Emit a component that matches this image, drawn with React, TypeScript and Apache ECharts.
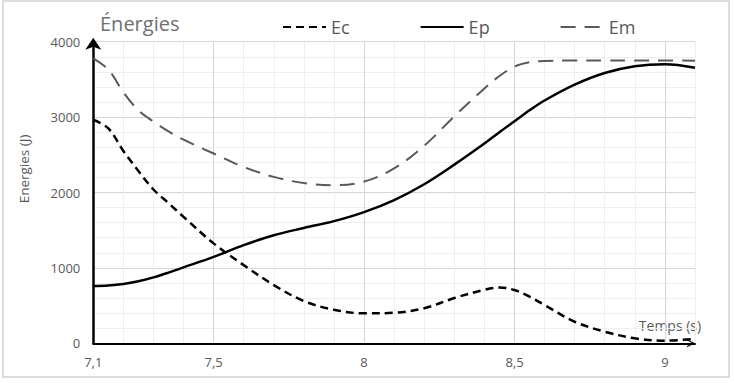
import React, { useEffect, useRef } from "react";
import * as echarts from "echarts";

const times = [7.1, 7.15, 7.2, 7.25, 7.3, 7.35, 7.4, 7.5, 7.6, 7.7, 7.8, 7.9, 8.0, 8.1, 8.2, 8.3, 8.4, 8.45, 8.5, 8.55, 8.6, 8.7, 8.8, 8.9, 9.0, 9.1];
const ecValues = [2965, 2850, 2550, 2285, 2040, 1860, 1677, 1325, 1037, 772, 560, 445, 397, 405, 465, 600, 710, 740, 706, 618, 507, 286, 154, 66, 35, 60];
const epValues = [759, 765, 785, 822, 874, 938, 1007, 1147, 1302, 1434, 1530, 1620, 1740, 1900, 2110, 2370, 2650, 2800, 2945, 3090, 3220, 3430, 3584, 3673, 3700, 3655];
const emValues = [3780, 3630, 3330, 3090, 2940, 2810, 2700, 2517, 2339, 2207, 2125, 2097, 2145, 2320, 2620, 3010, 3380, 3545, 3670, 3728, 3745, 3750, 3750, 3750, 3750, 3748];
const seriesNames = ["Ec", "Ep", "Em"];
const xLabelTicks = [7.1, 7.5, 8, 8.5, 9];
const yLabelTicks = [0, 1000, 2000, 3000, 4000];

const FONT = "'Open Sans', 'Noto Sans', sans-serif";
const TXT = "#595959";
const MINOR = "#efefef";
const MAJOR = "#d6d6d6";

export default function App() {
  const ref = useRef<HTMLDivElement>(null);
  useEffect(() => {
    if (!ref.current) return;
    const chart = echarts.init(ref.current, undefined, { renderer: "svg" });
    const pair = (vals: number[]) => times.map((t, i) => [t, vals[i]]);
    chart.setOption({
      animation: false,
      backgroundColor: "#ffffff",
      textStyle: { fontFamily: FONT },
      grid: { left: 93.3, top: 41.7, right: 39, bottom: 39.7, containLabel: false },
      legend: {
        left: 277,
        top: 13,
        itemWidth: 43,
        itemHeight: 14,
        itemGap: 70,
        itemStyle: { opacity: 0 },
        textStyle: { color: TXT, fontSize: 18, fontFamily: FONT },
        data: seriesNames,
      },
      xAxis: {
        type: "value",
        min: 7.1,
        max: 9.1,
        interval: 0.1,
        axisLine: {
          show: true,
          onZero: false,
          lineStyle: { color: "#000", width: 2 },
          symbol: ["none", "path://M0,12 L6,0 L12,12 L10.2,12 L6,3.6 L1.8,12 Z"],
          symbolSize: [13, 8],
          symbolOffset: [0, -4],
        },
        axisTick: { show: false },
        splitLine: {
          show: true,
          lineStyle: { color: [MINOR, MINOR, MINOR, MINOR, MAJOR], width: 1 },
        },
        axisLabel: {
          margin: 12,
          color: TXT,
          fontSize: 13,
          fontFamily: FONT,
          formatter: (v: number) => {
            const k = Math.round(v * 10);
            const hit = xLabelTicks.find((t) => Math.round(t * 10) === k);
            return hit === undefined ? "" : String(hit).replace(".", ",");
          },
        },
      },
      yAxis: {
        type: "value",
        min: 0,
        max: 4000,
        interval: 200,
        axisLine: {
          show: true,
          lineStyle: { color: "#000", width: 2.5 },
          symbol: ["none", "arrow"],
          symbolSize: [12, 12],
          symbolOffset: [0, 4],
        },
        axisTick: { show: false },
        splitLine: {
          show: true,
          lineStyle: { color: [MAJOR, MINOR, MINOR, MINOR, MINOR], width: 1 },
        },
        axisLabel: {
          margin: 13,
          color: TXT,
          fontSize: 13,
          fontFamily: FONT,
          formatter: (v: number) => (yLabelTicks.includes(Math.round(v)) ? String(Math.round(v)) : ""),
        },
      },
      graphic: [
        {
          type: "rect",
          shape: { x: 3, y: 1, width: 726, height: 376 },
          style: { fill: "none", stroke: "#dcdcdc", lineWidth: 2 },
          silent: true,
          z: -1,
        },
        {
          type: "text",
          x: 100,
          y: 23,
          style: { text: "Énergies", fill: "#707070", fontSize: 20, fontFamily: FONT, verticalAlign: "middle", align: "left" },
        },
        {
          type: "text",
          x: 24,
          y: 169,
          rotation: Math.PI / 2,
          style: { text: "Energies (J)", fill: TXT, fontSize: 13.5, fontFamily: FONT, verticalAlign: "middle", align: "center" },
        },
        {
          type: "text",
          x: 670,
          y: 325,
          style: { text: "Temps (s)", fill: TXT, fontSize: 14, fontFamily: FONT, verticalAlign: "middle", align: "center" },
        },
      ],
      series: [
        {
          name: seriesNames[0],
          type: "line",
          data: pair(ecValues),
          smooth: 0.35,
          symbol: "none",
          lineStyle: { color: "#000", width: 2.5, type: [8, 5] },
          itemStyle: { color: "#000" },
          z: 3,
        },
        {
          name: seriesNames[1],
          type: "line",
          data: pair(epValues),
          smooth: 0.35,
          symbol: "none",
          lineStyle: { color: "#000", width: 2.5, type: "solid" },
          itemStyle: { color: "#000" },
          z: 3,
        },
        {
          name: seriesNames[2],
          type: "line",
          data: pair(emValues),
          smooth: 0.35,
          symbol: "none",
          lineStyle: { color: "#595959", width: 2, type: [15, 9] },
          itemStyle: { color: "#595959" },
          z: 2,
        },
      ],
    });
    return () => chart.dispose();
  }, []);
  return (
    <div
      ref={ref}
      style={{ position: "fixed", left: 0, top: 0, width: 734, height: 383, background: "#fff" }}
    />
  );
}
